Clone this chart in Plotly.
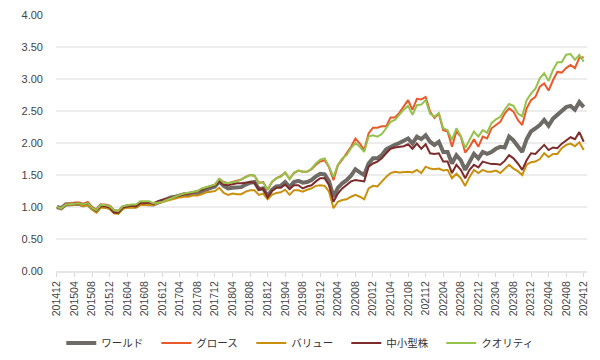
import plotly.graph_objects as go

# Month labels 201412 .. 202412
months = []
y, m = 2014, 12
for _ in range(121):
    months.append(f"{y}{m:02d}")
    m += 1
    if m > 12:
        m = 1
        y += 1
tick_labels = months[::4]

series_names = ["ワールド", "グロース", "バリュー", "中小型株", "クオリティ"]

world = [1.00, 0.98, 1.04, 1.04, 1.05, 1.05, 1.03, 1.05, 0.98, 0.94, 1.02, 1.01, 0.99,
         0.93, 0.92, 0.99, 1.01, 1.01, 1.01, 1.05, 1.05, 1.05, 1.04, 1.07, 1.10,
         1.12, 1.15, 1.16, 1.18, 1.20, 1.20, 1.22, 1.22, 1.25, 1.28, 1.30, 1.32,
         1.40, 1.33, 1.29, 1.30, 1.30, 1.31, 1.35, 1.38, 1.39, 1.28, 1.29, 1.17,
         1.27, 1.32, 1.33, 1.39, 1.31, 1.39, 1.41, 1.38, 1.39, 1.42, 1.48, 1.52,
         1.51, 1.40, 1.16, 1.30, 1.37, 1.42, 1.49, 1.59, 1.54, 1.50, 1.68, 1.76,
         1.76, 1.81, 1.90, 1.94, 1.97, 2.00, 2.04, 2.07, 1.99, 2.10, 2.06, 2.12,
         2.02, 1.97, 2.02, 1.86, 1.86, 1.68, 1.81, 1.73, 1.58, 1.71, 1.83, 1.76,
         1.86, 1.83, 1.86, 1.91, 1.94, 1.93, 2.10, 2.04, 1.95, 1.86, 2.06, 2.18,
         2.23, 2.28, 2.36, 2.27, 2.38, 2.44, 2.49, 2.56, 2.58, 2.52, 2.64, 2.56]

growth = [1.00, 0.98, 1.05, 1.05, 1.07, 1.07, 1.05, 1.08, 1.00, 0.96, 1.04, 1.04, 1.02,
          0.95, 0.94, 1.00, 1.02, 1.03, 1.03, 1.08, 1.08, 1.08, 1.05, 1.06, 1.08,
          1.11, 1.14, 1.16, 1.19, 1.21, 1.21, 1.23, 1.24, 1.28, 1.31, 1.33, 1.35,
          1.44, 1.39, 1.37, 1.39, 1.41, 1.43, 1.47, 1.50, 1.49, 1.38, 1.39, 1.27,
          1.39, 1.45, 1.48, 1.54, 1.44, 1.53, 1.57, 1.55, 1.55, 1.59, 1.66, 1.71,
          1.73, 1.62, 1.42, 1.65, 1.74, 1.84, 1.94, 2.07, 1.99, 1.89, 2.15, 2.24,
          2.24, 2.26, 2.26, 2.40, 2.40, 2.47, 2.58, 2.67, 2.52, 2.69, 2.68, 2.72,
          2.49, 2.39, 2.46, 2.20, 2.18, 1.94, 2.18, 2.10, 1.85, 1.94, 2.06, 1.94,
          2.10, 2.07, 2.23, 2.28, 2.33, 2.46, 2.54, 2.49, 2.36, 2.28, 2.54, 2.67,
          2.72, 2.88, 2.93, 2.82, 2.98, 3.11, 3.10, 3.17, 3.22, 3.17, 3.33, 3.34]

value = [1.00, 0.97, 1.03, 1.03, 1.04, 1.04, 1.01, 1.03, 0.96, 0.91, 0.99, 0.99, 0.97,
         0.90, 0.89, 0.97, 0.99, 0.99, 0.99, 1.03, 1.03, 1.03, 1.03, 1.06, 1.08,
         1.10, 1.12, 1.13, 1.15, 1.16, 1.16, 1.18, 1.18, 1.20, 1.23, 1.24, 1.25,
         1.30, 1.22, 1.19, 1.21, 1.20, 1.20, 1.24, 1.26, 1.26, 1.19, 1.21, 1.12,
         1.19, 1.22, 1.23, 1.27, 1.19, 1.26, 1.26, 1.24, 1.27, 1.29, 1.33, 1.34,
         1.33, 1.24, 0.98, 1.08, 1.11, 1.12, 1.16, 1.19, 1.16, 1.12, 1.29, 1.33,
         1.32, 1.40, 1.47, 1.53, 1.55, 1.54, 1.55, 1.55, 1.54, 1.58, 1.53, 1.63,
         1.60, 1.59, 1.60, 1.57, 1.58, 1.45, 1.52, 1.45, 1.33, 1.47, 1.58, 1.53,
         1.58, 1.55, 1.55, 1.57, 1.53, 1.60, 1.66, 1.60, 1.56, 1.50, 1.66, 1.70,
         1.71, 1.75, 1.84, 1.78, 1.83, 1.83, 1.92, 1.97, 1.99, 1.95, 2.01, 1.89]

small_mid = [1.00, 0.98, 1.04, 1.04, 1.05, 1.06, 1.04, 1.06, 0.99, 0.94, 1.01, 1.01, 0.99,
             0.91, 0.91, 0.99, 1.01, 1.02, 1.01, 1.06, 1.06, 1.07, 1.05, 1.09, 1.11,
             1.13, 1.15, 1.16, 1.18, 1.20, 1.21, 1.23, 1.24, 1.27, 1.30, 1.32, 1.34,
             1.40, 1.35, 1.34, 1.36, 1.37, 1.37, 1.38, 1.39, 1.38, 1.27, 1.29, 1.15,
             1.25, 1.30, 1.30, 1.35, 1.28, 1.34, 1.34, 1.29, 1.32, 1.34, 1.40, 1.45,
             1.45, 1.34, 1.08, 1.21, 1.29, 1.34, 1.40, 1.42, 1.41, 1.40, 1.63, 1.68,
             1.71, 1.76, 1.84, 1.91, 1.93, 1.94, 1.95, 1.98, 1.91, 1.99, 1.91, 1.98,
             1.84, 1.83, 1.84, 1.71, 1.71, 1.53, 1.66, 1.58, 1.45, 1.58, 1.66, 1.62,
             1.71, 1.69, 1.67, 1.67, 1.66, 1.72, 1.81, 1.76, 1.68, 1.58, 1.73, 1.84,
             1.83, 1.90, 1.97, 1.89, 1.93, 1.92, 1.99, 2.04, 2.09, 2.06, 2.17, 2.02]

quality = [1.00, 0.98, 1.04, 1.04, 1.05, 1.06, 1.04, 1.06, 0.99, 0.95, 1.03, 1.03, 1.01,
           0.95, 0.94, 1.01, 1.03, 1.04, 1.04, 1.09, 1.09, 1.09, 1.06, 1.07, 1.08,
           1.11, 1.14, 1.16, 1.19, 1.21, 1.22, 1.24, 1.25, 1.29, 1.31, 1.33, 1.35,
           1.44, 1.38, 1.37, 1.38, 1.40, 1.43, 1.47, 1.50, 1.49, 1.38, 1.38, 1.27,
           1.40, 1.45, 1.47, 1.54, 1.43, 1.54, 1.57, 1.55, 1.55, 1.60, 1.68, 1.74,
           1.76, 1.63, 1.47, 1.66, 1.76, 1.81, 1.92, 2.00, 1.94, 1.86, 2.10, 2.12,
           2.10, 2.14, 2.23, 2.33, 2.36, 2.44, 2.52, 2.58, 2.44, 2.59, 2.60, 2.67,
           2.46, 2.41, 2.47, 2.23, 2.20, 2.05, 2.23, 2.11, 1.92, 2.05, 2.18, 2.10,
           2.20, 2.16, 2.31, 2.37, 2.41, 2.52, 2.61, 2.58, 2.46, 2.42, 2.67, 2.77,
           2.85, 3.01, 3.09, 2.97, 3.14, 3.26, 3.26, 3.38, 3.39, 3.30, 3.375, 3.27]

y_ticks = [0, 0.5, 1.0, 1.5, 2.0, 2.5, 3.0, 3.5, 4.0]

colors = ["#6e6b66", "#e8592b", "#c9900e", "#7d2b2b", "#95c24c"]
widths = [4, 2, 2, 2, 2]
data = [world, growth, value, small_mid, quality]

fig = go.Figure()
for name, vals, c, w in zip(series_names, data, colors, widths):
    fig.add_trace(go.Scatter(x=months, y=vals, name=name, mode="lines",
                             line=dict(color=c, width=w)))

font_family = "Liberation Sans, Arial, Noto Sans CJK JP, sans-serif"
fig.update_layout(
    width=592, height=352,
    margin=dict(l=48, r=13, t=7, b=89, autoexpand=False),
    paper_bgcolor="white", plot_bgcolor="white",
    font=dict(family=font_family, size=11, color="#444"),
    showlegend=True,
    legend=dict(orientation="h", x=0.01, xanchor="left", y=-0.225, yanchor="top",
                font=dict(size=10.5, color="#333", family="Noto Sans CJK JP, sans-serif"),
                entrywidth=50, entrywidthmode="pixels", itemwidth=30,
                traceorder="normal"),
)
fig.update_xaxes(type="category", range=[-0.2, 120.75],
                 tickmode="array", tickvals=tick_labels, ticktext=tick_labels,
                 tickangle=-90, ticks="outside", ticklen=4, tickcolor="#d9d9d9",
                 showgrid=False, showline=True, linecolor="#e6e6e6", linewidth=2,
                 tickfont=dict(size=10.5, color="#444"), zeroline=False)
fig.update_yaxes(range=[0, 4.0], tickmode="array", tickvals=y_ticks,
                 tickformat=".2f", showgrid=True, gridcolor="#ececec", gridwidth=2,
                 zeroline=False, showline=False, ticklabelstandoff=12,
                 tickfont=dict(size=11, color="#444"))

fig.write_html("out.html")
